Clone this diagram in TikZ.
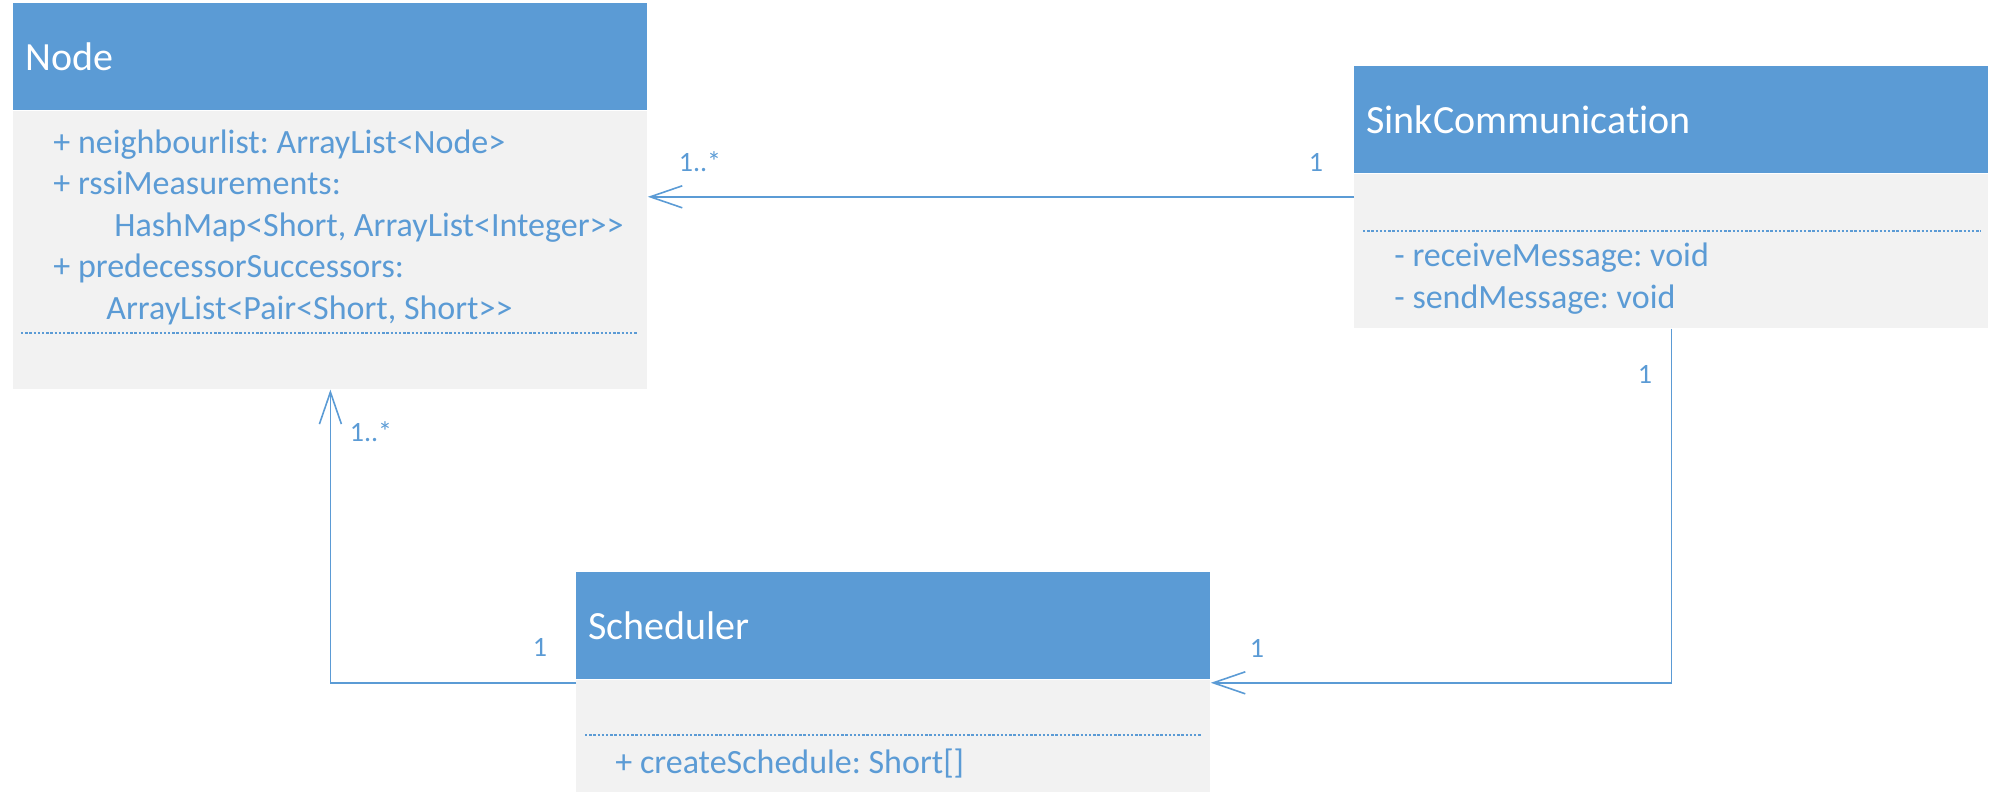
\documentclass[tikz,border=0pt]{standalone}
\usepackage{fontspec}
\setmainfont{Carlito}[Ligatures=NoCommon]
\usetikzlibrary{arrows.meta, positioning}

\definecolor{umlblue}{HTML}{5B9BD5}
\definecolor{umlgray}{HTML}{F2F2F2}

\tikzset{
    head/.style={fill=umlblue, text=white, anchor=north west,
        font=\fontsize{20}{24}\selectfont, text width=305pt, align=left,
        inner xsep=6pt, inner ysep=0pt, minimum height=53.5pt},
    body/.style={fill=umlgray, minimum width=317pt, inner sep=0pt},
    members/.style={text=umlblue, anchor=base west, align=left, inner sep=0pt,
        font=\fontsize{17}{20.75}\selectfont\frenchspacing},
    mult/.style={text=umlblue, inner sep=0pt, font=\fontsize{14}{17}\selectfont},
    sepline/.style={draw=umlblue, line width=0.6pt, dash pattern=on 1.2pt off 0.9pt},
    assoc/.style={draw=umlblue, line width=0.8pt,
        -{Straight Barb[length=16pt, width=11pt, line width=0.8pt]}}
}

\begin{document}
\begin{tikzpicture}[x=0.5pt, y=-0.5pt]

        \useasboundingbox (0,0) rectangle (1997,799);

        % Node (base anchor = baseline of the last line)
        \node[head] (nodehead) at (13,3) {Node};
        \node[body, minimum height=139pt, below=0pt of nodehead] (nodebody) {};
        \node[members] (nodeattr) at (53,319)
            {+ neighbourlist: ArrayList<Node>\\
             + rssiMeasurements:\\
             \hspace*{30.5pt}HashMap<Short, ArrayList<Integer>{}>\\
             + predecessorSuccessors:\\
             \hspace*{26.5pt}ArrayList<Pair<Short, Short>{}>};
        \draw[sepline]
            (21,333) -- (638,333);

        % SinkCommunication
        \node[head] (sinkhead) at (1354,66) {SinkCommunication};
        \node[body, minimum height=77pt, below=0pt of sinkhead] (sinkbody) {};
        \draw[sepline]
            (1363,231) -- (1981,231);
        \node[members] (sinkops) at (1394,308)
            {- receiveMessage: void\\
             - sendMessage: void};

        % Scheduler
        \node[head] (schedhead) at (576,572) {Scheduler};
        \node[body, minimum height=56pt, below=0pt of schedhead] (schedbody) {};
        \draw[sepline]
            (585,735) -- (1202,735);
        \node[members] (schedops) at (615,773)
            {+ createSchedule: Short[]};

        % associations
        \draw[assoc]
            ([yshift=-11.5pt]sinkhead.south west) coordinate (sinkout)
            -- (sinkout -| nodebody.east);

        \draw[assoc]
            ([yshift=-1.5pt]schedbody.north west) -| (nodebody.south);

        \draw[assoc]
            (sinkbody.south) |- ([yshift=-1.5pt]schedbody.north east);

        \node[mult] (m1) at (700,162) {1..*};
        \node[mult] (m2) at (1316,162) {1};
        \node[mult] (m3) at (371,432) {1..*};
        \node[mult] (m4) at (540,647) {1};
        \node[mult] (m5) at (1645,374) {1};
        \node[mult] (m6) at (1257,648) {1};

\end{tikzpicture}
\end{document}
